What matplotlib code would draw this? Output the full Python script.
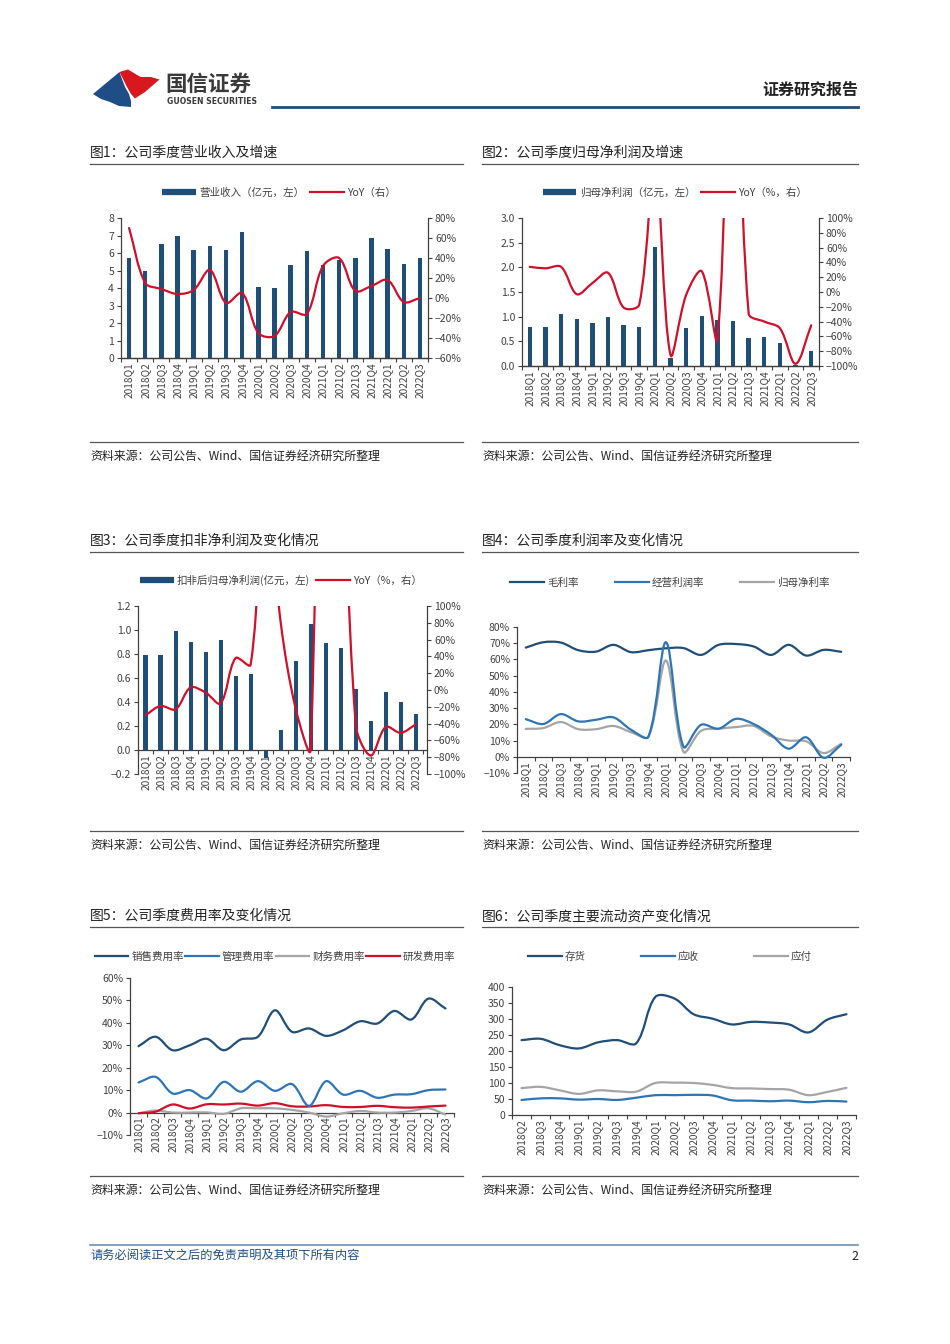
import matplotlib
matplotlib.use("Agg")
import matplotlib.pyplot as plt
from matplotlib.path import Path
from matplotlib.patches import PathPatch, Polygon
from matplotlib.lines import Line2D
import numpy as np

plt.rcParams['font.family'] = ['Noto Sans CJK SC', 'DejaVu Sans']

# ---- 数据 ----
quarters = ["2018Q1", "2018Q2", "2018Q3", "2018Q4", "2019Q1", "2019Q2", "2019Q3", "2019Q4",
            "2020Q1", "2020Q2", "2020Q3", "2020Q4", "2021Q1", "2021Q2", "2021Q3", "2021Q4",
            "2022Q1", "2022Q2", "2022Q3"]
quarters_b = quarters[1:]  # 图6 从 2018Q2 开始

revenue = [5.7, 5.0, 6.5, 6.95, 6.2, 6.4, 6.15, 7.2, 4.05, 4.0, 5.3, 6.1, 5.3, 5.6, 5.7, 6.85, 6.25, 5.4, 5.7]
revenue_yoy = [70, 15, 9, 4, 8, 28, -5, 5, -35, -38, -14, -16, 32, 40, 7, 12, 18, -4, 0]

netprofit = [0.79, 0.80, 1.05, 0.95, 0.88, 1.0, 0.83, 0.80, 2.42, 0.17, 0.78, 1.02, 0.93, 0.91, 0.56, 0.59, 0.46, 0.02, 0.30]
netprofit_yoy = [34, 32, 34, -3, 12, 26, -21, -17, 175, -85, -4, 28, -64, 435, -29, -40, -49, -97, -45]

deducted = [0.79, 0.79, 0.99, 0.90, 0.82, 0.92, 0.62, 0.63, -0.07, 0.17, 0.74, 1.05, 0.89, 0.85, 0.51, 0.24, 0.48, 0.40, 0.30]
deducted_yoy = [-30, -19, -23, 3, -3, -16, 38, 30, 260, 81, -22, -71, 900, 400, -41, -78, -44, -51, -41]

gross_margin = [67.3, 70.6, 70.4, 65.7, 64.8, 69, 64.5, 65.7, 66.9, 67, 62.8, 69, 69.5, 68, 62.8, 69, 62.4, 65.9, 64.7]
op_margin = [23.2, 20.2, 26.3, 21.8, 22.8, 24.3, 16.7, 12.4, 70.6, 6.2, 19.7, 17.3, 23.4, 20.2, 13.6, 5, 12, -0.6, 7.4]
net_margin = [17.2, 17.7, 21.4, 17, 17, 19, 15.2, 12.4, 59.3, 3, 16, 17.3, 18.3, 19, 12.6, 10, 9.5, 2.3, 8]

selling = [29.6, 33.8, 27.8, 30, 32.9, 27.8, 32.6, 33.8, 45.6, 36, 37.5, 34.2, 36.7, 40.7, 39.7, 45.3, 41.5, 50.8, 46.4]
admin = [13.4, 15.9, 8.5, 10, 6.3, 13.7, 9.3, 14, 9.7, 12.7, 3, 14, 8, 9.7, 6.6, 8, 8.2, 10, 10.3]
finance = [-0.3, 0.9, 0, 0, 0.1, -0.6, 1.9, 1.9, 1.9, 1.2, 0, -1.8, -0.3, 0.7, 0, 0, 0.7, 1.9, -0.9]
rnd = [-0.3, 0.4, 3.6, 1.8, 3.7, 3.6, 4.0, 3.1, 4.2, 2.8, 2.7, 3.3, 2.5, 2.5, 3.0, 2.4, 2.2, 2.7, 3.1]

inventory = [234, 238, 218, 208, 227, 234, 224, 369, 364, 315, 301, 283, 291, 289, 283, 258, 298, 315]
receivable = [47, 52, 52, 48, 50, 47, 54, 62, 62, 63, 61, 46, 45, 43, 45, 40, 44, 42]
payable = [84, 88, 77, 66, 77, 74, 73, 100, 101, 100, 94, 84, 83, 81, 79, 62, 72, 85]

NAVY = "#1F4E79"
BLUE = "#2E75B6"
GRAY = "#A5A5A5"
RED = "#D0102A"
TXT = "#404040"
SP = "#404040"

W, H = 950, 1344
fig = plt.figure(figsize=(W / 100, H / 100), dpi=100)

pg = fig.add_axes([0, 0, 1, 1])
pg.set_xlim(0, W); pg.set_ylim(H, 0); pg.axis("off")


def box(x0, y0, x1, y1):
    return [x0 / W, 1 - y1 / H, (x1 - x0) / W, (y1 - y0) / H]


def smooth(ax, y, color, lw=1.6):
    """Excel 风格平滑线：穿过每个数据点的三次贝塞尔曲线"""
    y = np.asarray(y, float)
    p = np.column_stack([np.arange(len(y), dtype=float), y])
    d = ax.transData.transform(p)
    seg = np.hypot(*np.diff(d, axis=0).T)
    n = len(p)
    verts, codes = [p[0]], [Path.MOVETO]
    for i in range(n - 1):
        if i == 0:
            c1 = p[0] + (p[1] - p[0]) / 3
        else:
            c1 = p[i] + (p[i + 1] - p[i - 1]) * seg[i] / (seg[i - 1] + seg[i]) / 3
        if i + 2 >= n:
            c2 = p[i + 1] - (p[i + 1] - p[i]) / 3
        else:
            c2 = p[i + 1] - (p[i + 2] - p[i]) * seg[i] / (seg[i] + seg[i + 1]) / 3
        verts += [c1, c2, p[i + 1]]
        codes += [Path.CURVE4] * 3
    ax.add_patch(PathPatch(Path(verts, codes), fill=False, edgecolor=color, lw=lw,
                           capstyle="round", joinstyle="round", zorder=3))


def cat_axis(ax, labels, at_zero=False):
    if at_zero:
        ax.spines["bottom"].set_position(("data", 0))
    n = len(labels)
    ax.set_xticks(np.arange(n))
    ax.set_xticklabels(labels, rotation=90, fontsize=7.3, color=TXT)
    ax.set_xticks(np.arange(n + 1) - 0.5, minor=True)
    ax.tick_params(axis="x", which="major", length=0, pad=3)
    ax.tick_params(axis="x", which="minor", length=3, direction="out", color=SP, width=0.8)


def style(ax, right=False):
    for s in ["top"] + ([] if right else ["right"]):
        ax.spines[s].set_visible(False)
    for s in ax.spines.values():
        s.set_color(SP); s.set_linewidth(0.9)
    ax.tick_params(axis="y", labelsize=7.5, colors=TXT, length=3, width=0.8, pad=2)


def pct(v):
    return f"{v:.0f}%".replace("-", "\u2212")


def dec(v):
    return f"{v:.1f}".replace("-", "\u2212")


def bar_handle():
    return Line2D([0], [0], color=NAVY, lw=4.5, solid_capstyle="butt")


def line_handle(c):
    return Line2D([0], [0], color=c, lw=1.6)


def legend(handles, labels, cx, cy, colsp=0.6, fs=7.6):
    fig.legend(handles, labels, loc="center", bbox_to_anchor=(cx / W, 1 - cy / H), ncol=len(labels),
               frameon=False, fontsize=fs, handlelength=3.2, handletextpad=0.3,
               columnspacing=colsp, labelcolor=TXT, borderaxespad=0, borderpad=0)


x = np.arange(len(quarters))

# ---- 图1 ----
ax = fig.add_axes(box(121, 218, 428, 358))
ax.bar(x, revenue, width=0.28, color=NAVY, zorder=2)
ax.set_xlim(-0.5, 18.5); ax.set_ylim(0, 8)
ax.set_yticks(range(0, 9))
style(ax); cat_axis(ax, quarters)
ax2 = ax.twinx()
ax2.set_xlim(-0.5, 18.5); ax2.set_ylim(-60, 80)
ax2.set_yticks(range(-60, 81, 20)); ax2.set_yticklabels([pct(v) for v in range(-60, 81, 20)])
style(ax2, right=True); ax2.spines["left"].set_visible(False)
smooth(ax2, revenue_yoy, RED)
legend([bar_handle(), line_handle(RED)], ["营业收入（亿元，左）", "YoY（右）"], 279, 193)

# ---- 图2 ----
ax = fig.add_axes(box(522, 218, 819, 366))
ax.bar(x, netprofit, width=0.28, color=NAVY, zorder=2)
ax.set_xlim(-0.5, 18.5); ax.set_ylim(0, 3)
yt = np.arange(0, 3.01, 0.5)
ax.set_yticks(yt); ax.set_yticklabels([dec(v) for v in yt])
style(ax); cat_axis(ax, quarters)
ax2 = ax.twinx()
ax2.set_xlim(-0.5, 18.5); ax2.set_ylim(-100, 100)
ax2.set_yticks(range(-100, 101, 20)); ax2.set_yticklabels([pct(v) for v in range(-100, 101, 20)])
style(ax2, right=True); ax2.spines["left"].set_visible(False)
smooth(ax2, netprofit_yoy, RED)
legend([bar_handle(), line_handle(RED)], ["归母净利润（亿元，左）", "YoY（%，右）"], 675, 193)

# ---- 图3 ----
ax = fig.add_axes(box(138, 606, 427, 774))
ax.bar(x, deducted, width=0.27, color=NAVY, zorder=2)
ax.set_xlim(-0.5, 18.75); ax.set_ylim(-0.2, 1.2)
yt = np.arange(-0.2, 1.21, 0.2)
ax.set_yticks(yt); ax.set_yticklabels([dec(v) for v in yt])
style(ax); cat_axis(ax, quarters, at_zero=True)
ax2 = ax.twinx()
ax2.set_xlim(-0.5, 18.75); ax2.set_ylim(-100, 100)
ax2.set_yticks(range(-100, 101, 20)); ax2.set_yticklabels([pct(v) for v in range(-100, 101, 20)])
style(ax2, right=True); ax2.spines["left"].set_visible(False); ax2.spines["bottom"].set_visible(False)
smooth(ax2, deducted_yoy, RED)
legend([bar_handle(), line_handle(RED)], ["扣非后归母净利润(亿元，左)", "YoY（%，右）"], 281, 580)

# ---- 图4 ----
ax = fig.add_axes(box(517, 627, 850, 773))
ax.set_xlim(-0.48, 18.1); ax.set_ylim(-10, 80)
ax.set_yticks(range(-10, 81, 10)); ax.set_yticklabels([pct(v) for v in range(-10, 81, 10)])
style(ax); cat_axis(ax, quarters, at_zero=True)
smooth(ax, gross_margin, NAVY)
smooth(ax, net_margin, GRAY)
smooth(ax, op_margin, BLUE)
legend([line_handle(NAVY), line_handle(BLUE), line_handle(GRAY)], ["毛利率", "经营利润率", "归母净利率"],
       670, 583, colsp=3.4)

# ---- 图5 ----
ax = fig.add_axes(box(130, 978, 454, 1135))
ax.set_xlim(-0.23, 18.07); ax.set_ylim(-10, 60)
ax.set_yticks(range(-10, 61, 10)); ax.set_yticklabels([pct(v) for v in range(-10, 61, 10)])
style(ax); cat_axis(ax, quarters, at_zero=True)
smooth(ax, finance, GRAY)
smooth(ax, rnd, RED)
smooth(ax, admin, BLUE)
smooth(ax, selling, NAVY)
legend([line_handle(NAVY), line_handle(BLUE), line_handle(GRAY), line_handle(RED)],
       ["销售费用率", "管理费用率", "财务费用率", "研发费用率"], 275, 957, colsp=0.1)

# ---- 图6 ----
ax = fig.add_axes(box(512, 987, 856, 1115))
ax.set_xlim(-0.45, 17.48); ax.set_ylim(0, 400)
ax.set_yticks(range(0, 401, 50))
style(ax); cat_axis(ax, quarters_b)
smooth(ax, payable, GRAY)
smooth(ax, receivable, BLUE)
smooth(ax, inventory, NAVY)
legend([line_handle(NAVY), line_handle(BLUE), line_handle(GRAY)], ["存货", "应收", "应付"], 670, 957, colsp=5.2)

# ---- 页面元素 ----
pg.add_patch(Polygon([(93, 94), (119.5, 72), (122, 79), (125, 87), (129, 94), (131, 101), (131, 107),
                      (119, 106), (110, 102), (101, 99)], closed=True, color="#1F4E86", lw=0))
pg.add_patch(Polygon([(119.5, 72), (128, 69.5), (138, 75.5), (141, 77), (151, 77), (159.5, 79.5),
                      (145, 92), (135, 98.5), (131, 94), (127, 87), (123, 79)], closed=True,
                     color="#D7191F", lw=0))
pg.text(165, 84, "国信证券", fontsize=15.5, color="#3A3A3A", va="center", ha="left", fontweight="bold")
pg.text(167, 102, "GUOSEN SECURITIES", fontsize=5.6, color="#3A3A3A", va="center", ha="left",
        fontweight="bold", family="DejaVu Sans")
pg.text(858, 90, "证券研究报告", fontsize=11.5, color="#222222", va="center", ha="right", fontweight="bold")
pg.plot([272, 858], [107, 107], color=NAVY, lw=2)

titles = [("图1：公司季度营业收入及增速", 90, 153), ("图2：公司季度归母净利润及增速", 482, 153),
          ("图3：公司季度扣非净利润及变化情况", 90, 541), ("图4：公司季度利润率及变化情况", 482, 541),
          ("图5：公司季度费用率及变化情况", 90, 916), ("图6：公司季度主要流动资产变化情况", 482, 916)]
for t, tx, ty in titles:
    pg.text(tx, ty, t, fontsize=10, color="#222222", va="center", ha="left")
    pg.plot([tx, tx + 373 if tx == 90 else 858], [ty + 11, ty + 11], color="#555555", lw=0.9)

src = "资料来源：公司公告、Wind、国信证券经济研究所整理"
for sy in (442, 831, 1176):
    for sx0, sx1 in ((90, 463), (482, 858)):
        pg.plot([sx0, sx1], [sy, sy], color="#555555", lw=0.9)
        pg.text(sx0, sy + 14, src, fontsize=8.6, color="#222222", va="center", ha="left")

pg.plot([90, 858], [1245, 1245], color="#6F8DB0", lw=1.2)
pg.text(90, 1255, "请务必阅读正文之后的免责声明及其项下所有内容", fontsize=8.8, color="#1F4E86",
        va="center", ha="left", style="italic")
pg.text(858, 1256, "2", fontsize=9, color="#222222", va="center", ha="right")

fig.savefig("out.png", dpi=100)
